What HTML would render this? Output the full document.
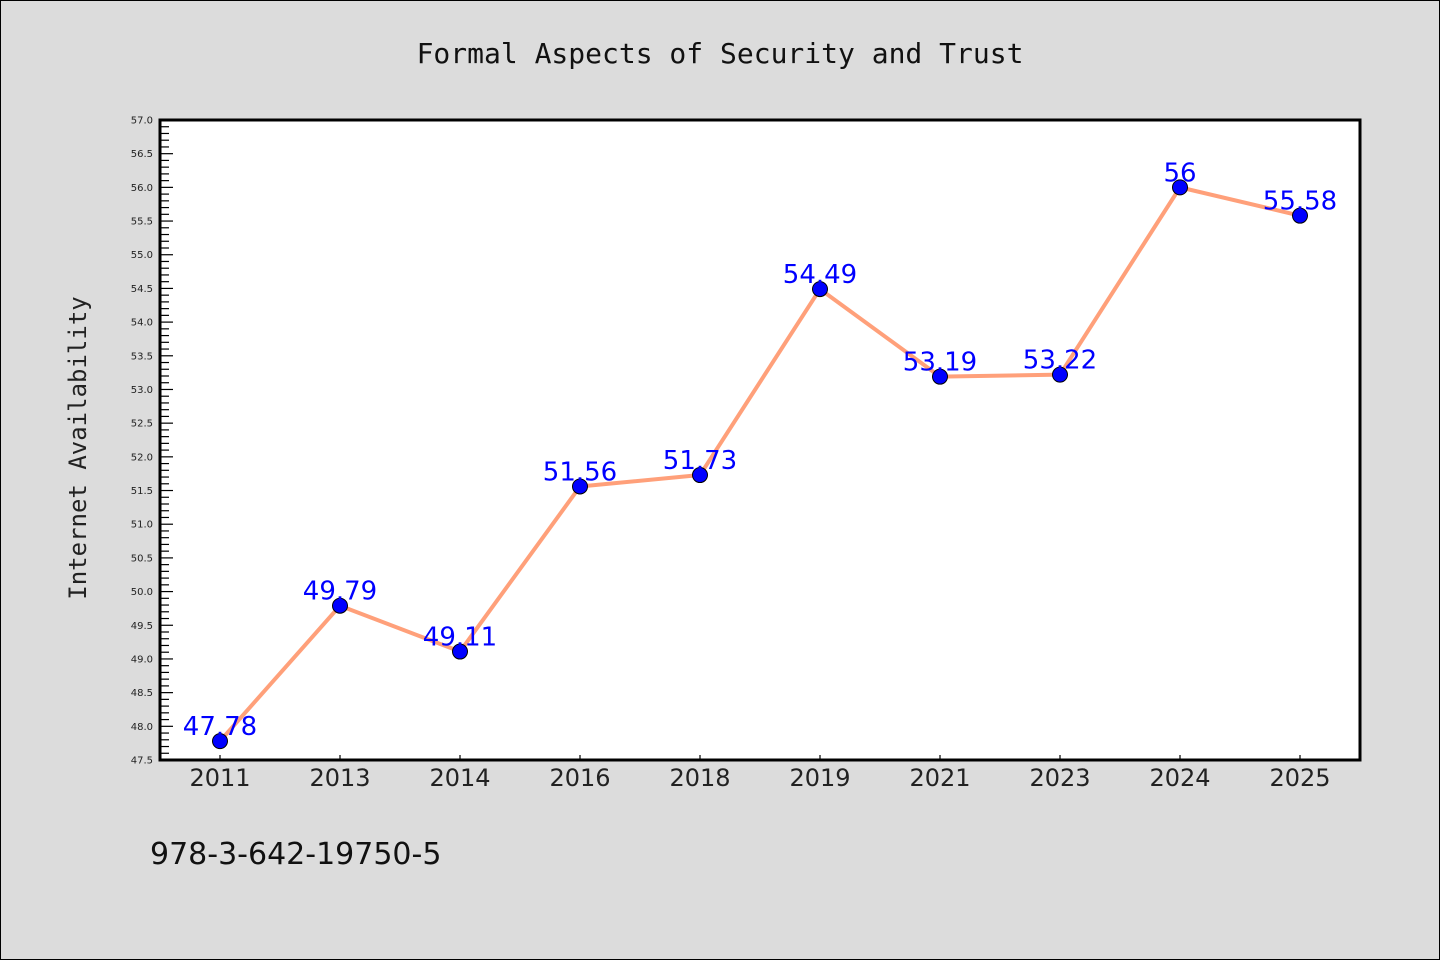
<!DOCTYPE html>
<html><head><meta charset="utf-8"><style>
body{margin:0;background:#dcdcdc;}
svg{display:block}
</style></head><body>
<svg width="1440" height="960" xmlns="http://www.w3.org/2000/svg">
<rect x="0.5" y="0.5" width="1439" height="959" fill="#dcdcdc" stroke="#000"/>
<text x="720" y="63" text-anchor="middle" font-family="DejaVu Sans Mono, Liberation Mono, monospace" font-size="28" fill="#111">Formal Aspects of Security and Trust</text>
<text transform="translate(86,448) rotate(-90)" text-anchor="middle" font-family="DejaVu Sans Mono, Liberation Mono, monospace" font-size="24" fill="#222">Internet Availability</text>
<text x="150" y="864" font-family="DejaVu Sans, Liberation Sans, sans-serif" font-size="30" fill="#111">978-3-642-19750-5</text>
<rect x="160" y="120" width="1200" height="640" fill="#fff"/>
<g id="axes"></g>
<g id="marks"></g>
<rect x="160" y="120" width="1200" height="640" fill="none" stroke="#000" stroke-width="3"/>
</svg>
<script>
const categories = ["2011","2013","2014","2016","2018","2019","2021","2023","2024","2025"];
const values = [47.78, 49.79, 49.11, 51.56, 51.73, 54.49, 53.19, 53.22, 56, 55.58];
const valueLabels = ["47.78","49.79","49.11","51.56","51.73","54.49","53.19","53.22","56","55.58"];
const yMin = 47.5, yMax = 57.0;
const NS = "http://www.w3.org/2000/svg";
const X0=160, X1=1360, Y0=120, Y1=760;
function xs(i){ return X0 + 60 + i*120; }
function ys(v){ return Y1 - (v - yMin)/(yMax - yMin)*(Y1 - Y0); }
function mk(tag, attrs){ const e=document.createElementNS(NS,tag); for(const k in attrs) e.setAttribute(k,attrs[k]); return e; }
const axes=document.getElementById('axes'), marks=document.getElementById('marks');
// y ticks
for(let k=0;k<=95;k++){
  const v=yMin+k*0.1, y=ys(v), major=(k%5===0);
  const t=mk('line',{x1:X0,x2:X0+(major?13:9),y1:y,y2:y,stroke:'#000','stroke-width':1.2});
  
  
  axes.appendChild(t);
  if(major){
    const l=mk('text',{x:153,y:y+3.5,'text-anchor':'end','font-family':'DejaVu Sans, Liberation Sans, sans-serif','font-size':10,fill:'#222'});
    l.textContent=v.toFixed(1);
    
    
    axes.appendChild(l);
  }
}
// x ticks
categories.forEach((c,i)=>{
  const x=xs(i);
  const t=mk('line',{x1:x,x2:x,y1:Y1,y2:Y1-5,stroke:'#000','stroke-width':1.2});
  
  
  axes.appendChild(t);
  const l=mk('text',{x:x,y:786,'text-anchor':'middle','font-family':'DejaVu Sans, Liberation Sans, sans-serif','font-size':24,fill:'#222'});
  l.textContent=c;
  
  
  axes.appendChild(l);
});
// line
const pts=values.map((v,i)=>xs(i)+','+ys(v)).join(' ');
const line=mk('polyline',{points:pts,fill:'none',stroke:'#ffa07a','stroke-width':4,'stroke-linejoin':'round'});


marks.appendChild(line);
values.forEach((v,i)=>{
  const c=mk('circle',{cx:xs(i),cy:ys(v),r:7.5,fill:'#0000ff',stroke:'#000','stroke-width':1});
  
  
  marks.appendChild(c);
});
values.forEach((v,i)=>{
  const l=mk('text',{x:xs(i),y:ys(v)-6,'text-anchor':'middle','font-family':'DejaVu Sans, Liberation Sans, sans-serif','font-size':26,fill:'#0000ff'});
  l.textContent=valueLabels[i];
  
  
  marks.appendChild(l);
});
</script>
</body></html>
